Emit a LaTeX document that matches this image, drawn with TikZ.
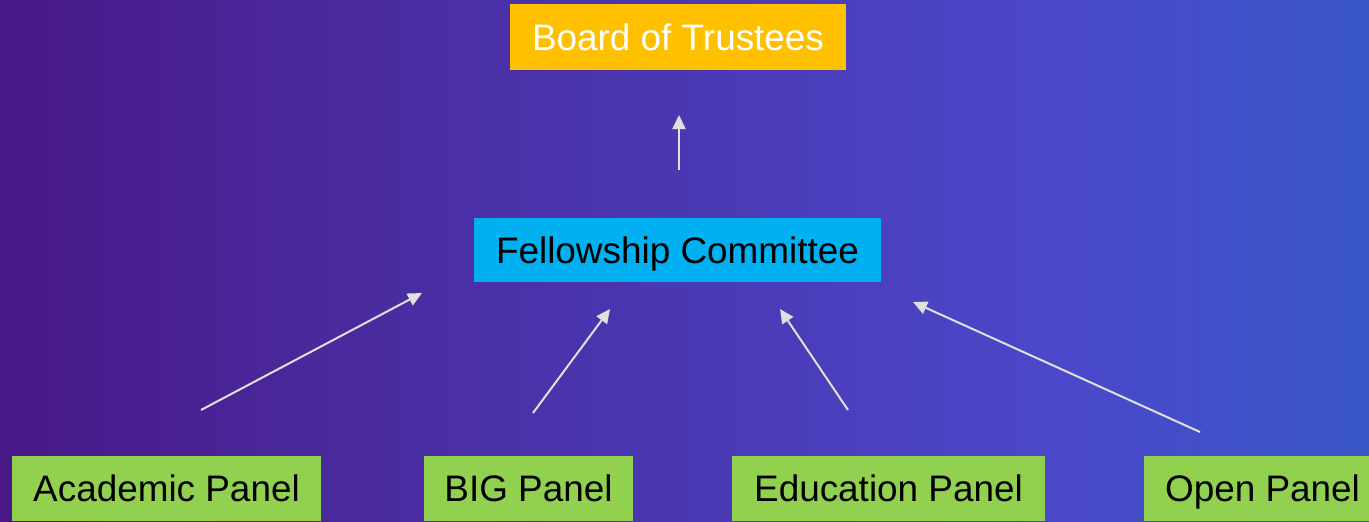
\documentclass[tikz,border=0pt]{standalone}
\usepackage{fontspec}
\setmainfont{Liberation Sans}
\usetikzlibrary{arrows.meta}

\definecolor{bgleft}{RGB}{72,24,134}
\definecolor{bgmidl}{RGB}{74,42,158}
\definecolor{bgmidr}{RGB}{75,72,202}
\definecolor{bgright}{RGB}{56,86,198}
\definecolor{boardgold}{HTML}{FFC000}
\definecolor{fellowblue}{HTML}{00B0F0}
\definecolor{panelgreen}{HTML}{92D050}
\definecolor{linkgrey}{HTML}{E0E0E0}

\pgfdeclarehorizontalshading{bgshade}{100bp}{color(0bp)=(bgleft); color(25bp)=(bgleft); color(37.5bp)=(bgmidl); color(63.5bp)=(bgmidr); color(75bp)=(bgright); color(100bp)=(bgright)}

\tikzset{
  box/.style={inner sep=0pt, font=\fontsize{21}{25}\selectfont, text height=15pt, text depth=0pt, minimum height=65*0.02cm},
  panel/.style={box, fill=panelgreen, text=black},
  link/.style={draw=linkgrey, line width=0.04cm, -{Triangle[width=0.26cm,length=0.28cm]}}
}

\begin{document}
\begin{tikzpicture}[x=0.02cm, y=-0.02cm]

\useasboundingbox (0,0) rectangle (1369,521);
\clip (0,0) rectangle (1369,521);
\shade[shading=bgshade] (0,0) rectangle (1369,521);

% boxes
\node[box, fill=boardgold, text=white, minimum width=336*0.02cm, minimum height=66*0.02cm] (board) at (678,37) {Board of Trustees};
\node[box, fill=fellowblue, text=black, minimum width=407*0.02cm, minimum height=64*0.02cm] (fellow) at (677.5,250) {Fellowship Committee};

\node[panel, minimum width=309*0.02cm] (academic) at (166.5,488.5) {Academic Panel};
\node[panel, minimum width=209*0.02cm] (big) at (528.5,488.5) {BIG Panel};
\node[panel, minimum width=313*0.02cm] (education) at (888.5,488.5) {Education Panel};
\node[panel, minimum width=237*0.02cm] (open) at (1262.5,488.5) {Open Panel};

% arrow ends
\coordinate (fellow out) at (679,170);
\coordinate (board in) at (679,115);
\coordinate (academic out) at (201,410);
\coordinate (academic in) at (422,293);
\coordinate (big out) at (533,413);
\coordinate (big in) at (610,309);
\coordinate (education out) at (848,410);
\coordinate (education in) at (780,309);
\coordinate (open out) at (1200,432);
\coordinate (open in) at (913,302);

\draw[link] (fellow out) -- (board in);
\draw[link] (academic out) -- (academic in);
\draw[link] (big out) -- (big in);
\draw[link] (education out) -- (education in);
\draw[link] (open out) -- (open in);

\end{tikzpicture}
\end{document}
